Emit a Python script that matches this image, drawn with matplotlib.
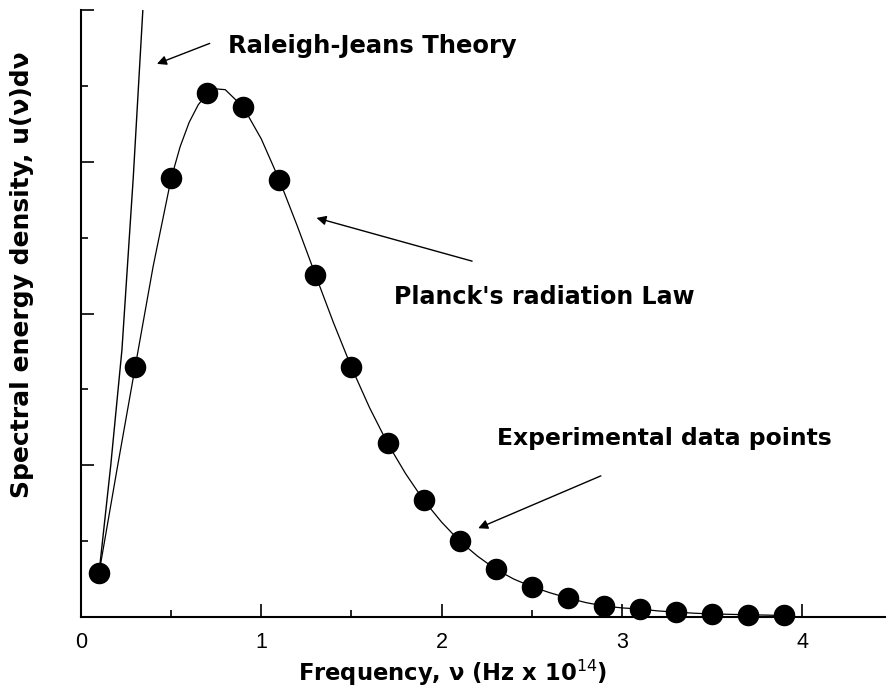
from matplotlib import pyplot as plt
from matplotlib.ticker import MultipleLocator, NullFormatter

plt.rcParams['font.family'] = ['Liberation Sans', 'DejaVu Sans']

# experimental data points (frequency in 1e14 Hz, energy density in arbitrary units)
freq_data = [0.1, 0.3, 0.5, 0.7, 0.9, 1.1, 1.3, 1.5, 1.7, 1.9,
             2.1, 2.3, 2.5, 2.7, 2.9, 3.1, 3.3, 3.5, 3.7, 3.9]
u_data    = [0.58, 3.29, 5.78, 6.90, 6.72, 5.76, 4.51, 3.29, 2.29, 1.54,
             1.00, 0.63, 0.40, 0.25, 0.145, 0.105, 0.065, 0.04, 0.03, 0.02]

# Planck curve
freq_planck = [0.1, 0.2, 0.3, 0.4, 0.5, 0.55, 0.6, 0.65, 0.7, 0.75, 0.8, 0.9, 1.0,
               1.1, 1.2, 1.3, 1.4, 1.5, 1.6, 1.7, 1.8, 1.9, 2.0,
               2.1, 2.2, 2.3, 2.4, 2.5, 2.6, 2.7, 2.8, 2.9, 3.0,
               3.1, 3.2, 3.3, 3.4, 3.5, 3.6, 3.7, 3.8, 3.9]
u_planck    = [0.58, 1.95, 3.29, 4.62, 5.78, 6.20, 6.52, 6.75, 6.90, 6.96, 6.95, 6.72, 6.30,
               5.76, 5.15, 4.51, 3.88, 3.29, 2.76, 2.29, 1.89, 1.54, 1.25,
               1.00, 0.80, 0.63, 0.50, 0.40, 0.32, 0.25, 0.19, 0.145, 0.12,
               0.105, 0.08, 0.065, 0.05, 0.04, 0.035, 0.03, 0.025, 0.02]

# Raleigh-Jeans line
freq_rj = [0.10, 0.165, 0.227, 0.29, 0.343, 0.36]
u_rj    = [0.58, 2.0, 3.52, 5.8, 8.0, 8.6]

W, H = 887, 694
fig = plt.figure(figsize=(W/100, H/100), dpi=100)
ax  = fig.add_axes([81/W, 1 - 617/H, 1 - 81/W, 607/H])

ax.plot(freq_rj, u_rj, color='black', linewidth=1.0)
ax.plot(freq_planck, u_planck, color='black', linewidth=0.9)
ax.plot(freq_data, u_data, 'o', color='black', markersize=14.5, clip_on=False)

ax.set_xlim(0, 4.47)
ax.set_ylim(0, 8)

for side in ['top', 'right']:
  ax.spines[side].set_visible(False)
for side in ['left', 'bottom']:
  ax.spines[side].set_linewidth(1.5)

ax.xaxis.set_major_locator(MultipleLocator(1))
ax.xaxis.set_minor_locator(MultipleLocator(0.5))
ax.yaxis.set_major_locator(MultipleLocator(2))
ax.yaxis.set_minor_locator(MultipleLocator(1))
ax.yaxis.set_major_formatter(NullFormatter())
ax.tick_params(which='major', direction='in', length=9.5, width=1.2,
               labelsize=15.5, pad=11)
ax.tick_params(which='minor', direction='in', length=5, width=1.2)

boldFont = dict(family='DejaVu Sans', fontweight='bold')

# axis labels placed in figure pixels
fig.text(298/W, 1 - 681/H, r'Frequency, ν (Hz x 10$^{14}$)',
         fontsize=16.3, ha='left', va='baseline', **boldFont)
fig.text(10/W, 1 - 498/H, 'Spectral energy density, u(ν)dν',
         fontsize=18, rotation=90, ha='left', va='bottom', **boldFont)

arrowKW = dict(arrowstyle='-|>', color='black', lw=1.0,
               mutation_scale=14, shrinkA=0, shrinkB=0)
textKW  = dict(ha='left', va='baseline', **boldFont)

ax.annotate('', xy=(0.421, 7.29), xytext=(0.714, 7.56), arrowprops=arrowKW)
ax.text(0.813, 7.43, 'Raleigh-Jeans Theory', fontsize=17.5, **textKW)

ax.annotate('', xy=(1.306, 5.26), xytext=(2.169, 4.69), arrowprops=arrowKW)
ax.text(1.738, 4.12, "Planck's radiation Law", fontsize=17.1, **textKW)

ax.annotate('', xy=(2.203, 1.17), xytext=(2.883, 1.86), arrowprops=arrowKW)
ax.text(2.308, 2.27, 'Experimental data points', fontsize=16.9, **textKW)

fig.savefig('out.png', dpi=100)
